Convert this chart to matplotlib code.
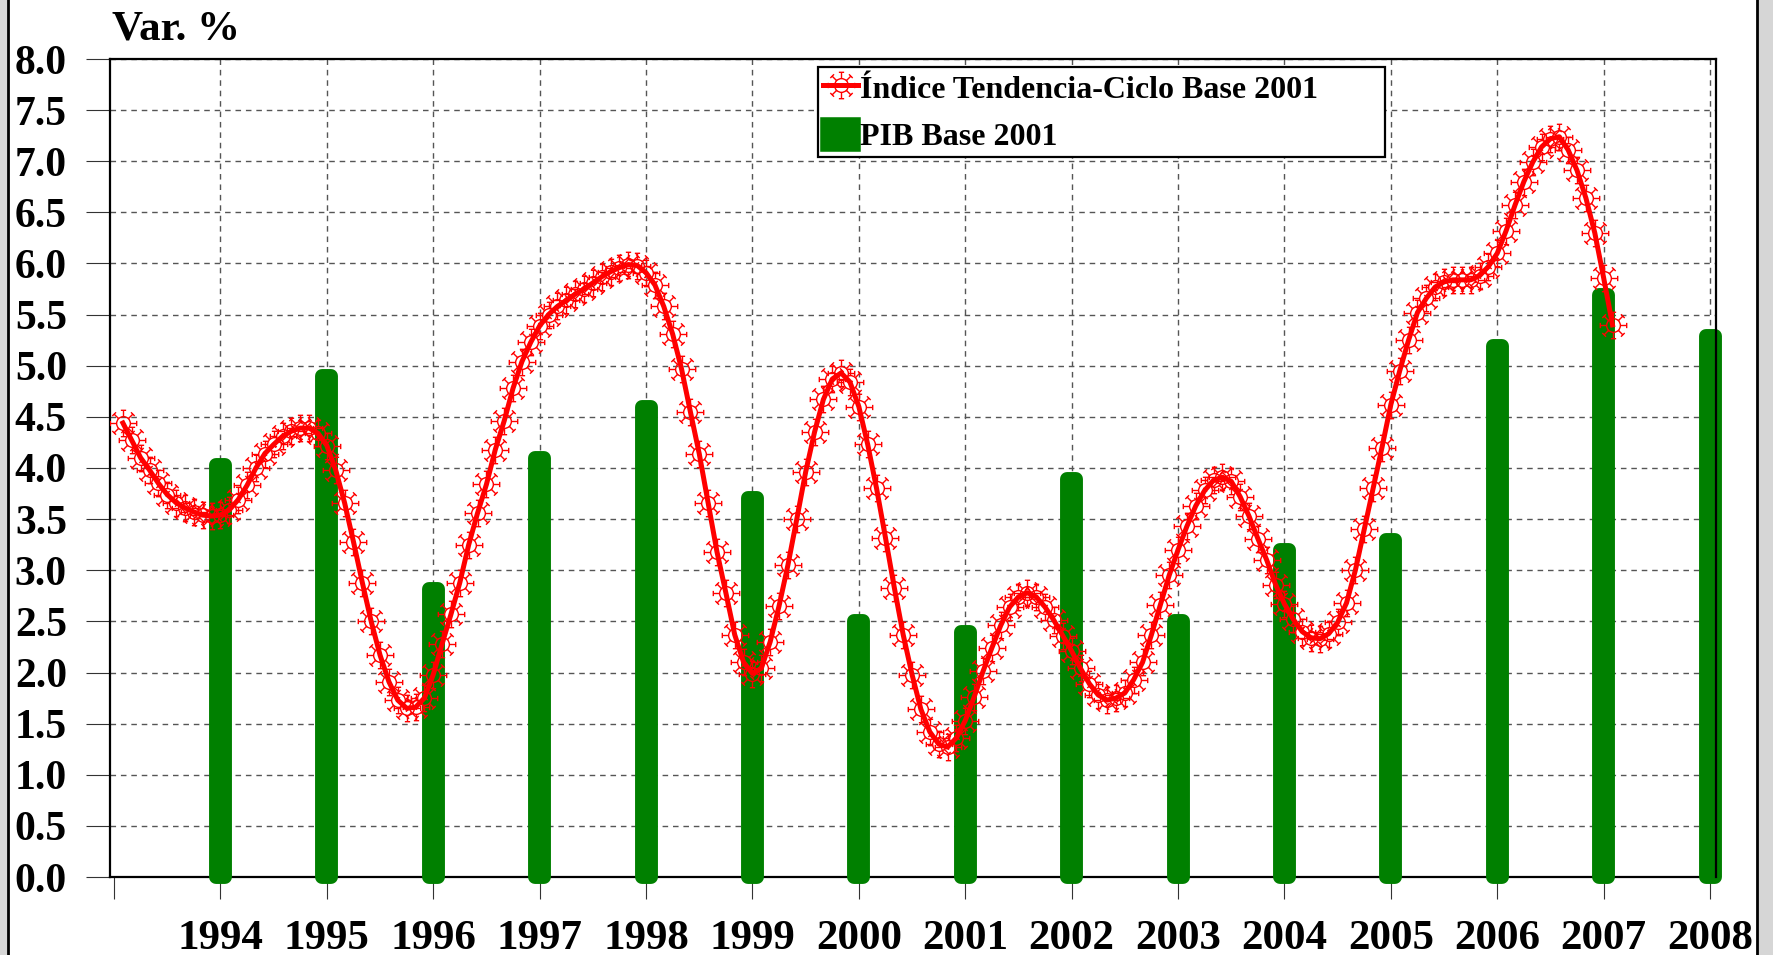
import numpy as np
import matplotlib
matplotlib.use("Agg")
import matplotlib.pyplot as plt
from matplotlib.path import Path
from matplotlib.patches import Rectangle, Patch

plt.rcParams['font.family'] = ['Liberation Serif', 'DejaVu Serif']
plt.rcParams['font.weight'] = 'bold'

# PIB anual (barras)
years = [1994, 1995, 1996, 1997, 1998, 1999, 2000, 2001, 2002, 2003, 2004, 2005, 2006, 2007, 2008]
pib = [4.10, 4.97, 2.88, 4.17, 4.66, 3.77, 2.57, 2.46, 3.96, 2.57, 3.27, 3.36, 5.26, 5.76, 5.36]

# indice tendencia-ciclo mensual, desde feb 1993
trend_start_year = 1993
trend_start_month = 2
tendencia = [
    4.44, 4.27, 4.10, 3.98, 3.85, 3.74, 3.66, 3.61, 3.57, 3.54, 3.53,        # 1993
    3.54, 3.59, 3.69, 3.83, 4.00, 4.14, 4.23, 4.31, 4.36, 4.39, 4.39, 4.34,  # 1994
    4.22, 3.98, 3.66, 3.28, 2.88, 2.50, 2.17, 1.91, 1.73, 1.65, 1.66, 1.75,  # 1995
    1.98, 2.28, 2.57, 2.88, 3.25, 3.56, 3.84, 4.18, 4.46, 4.78, 5.04, 5.23,  # 1996
    5.39, 5.50, 5.58, 5.64, 5.70, 5.75, 5.81, 5.87, 5.92, 5.96, 5.99, 5.98,  # 1997
    5.91, 5.79, 5.58, 5.31, 4.97, 4.55, 4.14, 3.66, 3.18, 2.78, 2.37, 2.10,  # 1998
    1.99, 2.04, 2.30, 2.65, 3.05, 3.50, 3.96, 4.35, 4.67, 4.87, 4.93, 4.84,  # 1999
    4.60, 4.23, 3.80, 3.32, 2.83, 2.37, 1.98, 1.64, 1.42, 1.30, 1.27, 1.36,  # 2000
    1.53, 1.76, 2.01, 2.24, 2.46, 2.64, 2.74, 2.78, 2.74, 2.64, 2.51, 2.36,  # 2001
    2.21, 2.04, 1.89, 1.78, 1.73, 1.75, 1.80, 1.93, 2.10, 2.37, 2.66, 2.95,  # 2002
    3.20, 3.43, 3.63, 3.78, 3.88, 3.91, 3.87, 3.72, 3.53, 3.31, 3.10, 2.86,  # 2003
    2.67, 2.52, 2.40, 2.34, 2.33, 2.38, 2.49, 2.68, 3.00, 3.40, 3.80, 4.20,  # 2004
    4.62, 4.95, 5.25, 5.52, 5.66, 5.77, 5.82, 5.84, 5.84, 5.84, 5.88, 5.97,  # 2005
    6.10, 6.32, 6.57, 6.80, 6.99, 7.14, 7.22, 7.24, 7.11, 6.91, 6.64, 6.30,  # 2006
    5.86, 5.40,                                                              # 2007
]
x_trend = trend_start_year + (trend_start_month - 1 + np.arange(len(tendencia))) / 12.0

y_ticks = np.arange(0, 8.01, 0.5)
x_ticks = list(range(1993, 2009))

GREEN = '#008000'
RED = '#ff0000'


def sun_marker():
    # circulo con 8 rayos terminados en travesaño
    verts, codes = [], []
    for k in range(8):
        a = k * np.pi / 4
        c, s = np.cos(a), np.sin(a)
        verts += [(0.52 * c, 0.52 * s), (c, s)]
        codes += [Path.MOVETO, Path.LINETO]
        px, py = -s * 0.2, c * 0.2
        verts += [(c + px, s + py), (c - px, s - py)]
        codes += [Path.MOVETO, Path.LINETO]
    rays = Path(verts, codes)
    return Path.make_compound_path(Path.circle((0, 0), 0.52), rays)


fig = plt.figure(figsize=(17.73, 9.55), dpi=100)
fig.patch.set_facecolor('#d6d6d6')
frame = Rectangle((8 / 1773, -0.02), (1757 - 8) / 1773, 1.04, transform=fig.transFigure,
                  facecolor='white', edgecolor='black', lw=2, zorder=-10)
fig.patches.append(frame)

ax = fig.add_axes([110 / 1773, 1 - 877 / 955, (1716 - 110) / 1773, (877 - 59) / 955])
ax.set_xlim(1992.962, 2008.056)
ax.set_ylim(0, 8)

# compensar el borde grueso redondeado de las barras
bar_lw = 10
px_per_unit = ax.bbox.height / 8.0
inset = (bar_lw / 72 * fig.dpi / 2) / px_per_unit
bars = ax.bar(years, [v - inset for v in pib], width=0.085, color=GREEN, edgecolor=GREEN,
              linewidth=bar_lw, joinstyle='round', zorder=3, clip_on=False)

line, = ax.plot(x_trend, tendencia, color=RED, lw=3.6, marker=sun_marker(), markersize=19,
                markerfacecolor='none', markeredgecolor=RED, markeredgewidth=1.0, zorder=5,
                label='Índice Tendencia-Ciclo Base 2001')

ax.set_yticks(y_ticks)
ax.set_yticklabels(['%.1f' % v for v in y_ticks])
ax.set_xticks(x_ticks)
ax.set_xticklabels(['' if y == 1993 else str(y) for y in x_ticks])
ax.tick_params(axis='y', direction='out', length=17, width=0.8, color='#333333',
               labelsize=30, pad=14)
ax.tick_params(axis='x', direction='out', length=16, width=0.8, color='#333333',
               labelsize=31, pad=15)

ax.set_axisbelow(True)
ax.grid(True, color='#555555', linestyle=(0, (4, 3.5)), linewidth=1.0)
ax.xaxis.get_gridlines()[0].set_visible(False)
for sp in ax.spines.values():
    sp.set_linewidth(1.6)
ax.spines['right'].set_zorder(6)

pib_handle = Patch(facecolor=GREEN, edgecolor=GREEN, linewidth=4, joinstyle='round',
                   label='PIB Base 2001')
leg = ax.legend(handles=[line, pib_handle], loc='upper left',
                bbox_to_anchor=(0.441, 0.863, 0.353, 0.127), mode='expand',
                borderaxespad=0, fontsize=23, handlelength=1.1, handleheight=1.05,
                handletextpad=0.05, labelspacing=0.47, borderpad=0.15,
                fancybox=False, framealpha=1, edgecolor='black')
leg.get_frame().set_linewidth(1.6)
leg.set_zorder(7)

fig.text(112 / 1773, 1 - 39 / 955, 'Var. %', fontsize=31, fontweight='bold',
         va='baseline', ha='left')

for lbl in ax.get_xticklabels():
    lbl.set_clip_path(frame)

fig.savefig('out.png', dpi=100, facecolor=fig.get_facecolor())
